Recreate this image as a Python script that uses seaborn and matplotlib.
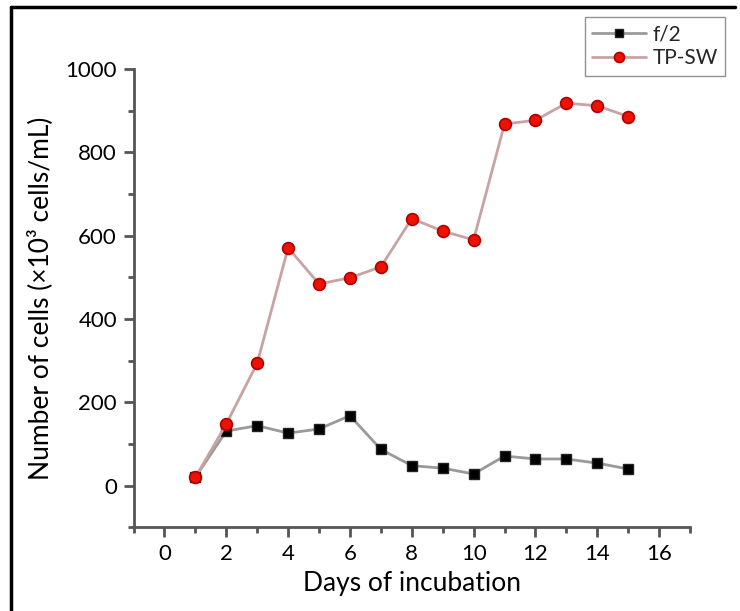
import matplotlib
matplotlib.use("Agg")
import matplotlib.pyplot as plt
from matplotlib.ticker import MultipleLocator
from matplotlib.lines import Line2D
import seaborn as sns
import numpy as np
import pandas as pd

days = [1, 2, 3, 4, 5, 6, 7, 8, 9, 10, 11, 12, 13, 14, 15]
f2 = [20, 131, 144, 126, 136, 168, 87, 48, 42, 28, 71, 64, 64, 54, 40]
tpsw = [20, 148, 294, 571, 484, 499, 525, 641, 611, 590, 868, 877, 918, 912, 886]
series_names = ["f/2", "TP-SW"]
x_ticks = [0, 2, 4, 6, 8, 10, 12, 14, 16]
y_ticks = [0, 200, 400, 600, 800, 1000]

sns.set_theme(style="white")
plt.rcParams['font.family'] = ['Lato', 'DejaVu Sans']

fig = plt.figure(figsize=(7.4, 6.11), dpi=100)
ax = fig.add_axes([0.1805, 0.137, 0.9324 - 0.1805, 0.887 - 0.137])

sns.lineplot(x=days, y=f2, ax=ax, label=series_names[0], color="#9a9a9a", lw=2,
             marker="s", markersize=7.5, markerfacecolor="black", markeredgecolor="#222222",
             markeredgewidth=1)
sns.lineplot(x=days, y=tpsw, ax=ax, label=series_names[1], color="#c9a3a3", lw=2,
             marker="o", markersize=8.5, markerfacecolor="#ee1100", markeredgecolor="#b00000",
             markeredgewidth=1.2)

ax.set_xlim(-1, 17)
ax.set_ylim(-100, 1000)
ax.set_xticks(x_ticks)
ax.set_yticks(y_ticks)
ax.xaxis.set_minor_locator(MultipleLocator(1))
ax.yaxis.set_minor_locator(MultipleLocator(100))

for s in ["top", "right"]:
    ax.spines[s].set_visible(False)
for s in ["left", "bottom"]:
    ax.spines[s].set_color("#555555")
    ax.spines[s].set_linewidth(2)

ax.tick_params(which="major", direction="out", length=7, width=2, color="#555555",
               labelsize=16, labelcolor="black", left=True, bottom=True, pad=5)
ax.tick_params(which="minor", direction="out", length=4, width=2, color="#555555",
               left=True, bottom=True)

ax.set_xlabel("Days of incubation", fontsize=19, color="black", labelpad=5)
ax.set_ylabel("Number of cells (×10³ cells/mL)", fontsize=19, color="black", labelpad=9)

leg = ax.legend(loc="upper right", bbox_to_anchor=(725/740, 1 - 17/611),
                bbox_transform=fig.transFigure, frameon=True, fancybox=False,
                edgecolor="#777777", fontsize=15, handlelength=2.6, handletextpad=0.3,
                borderpad=0.35, labelspacing=0.2, borderaxespad=0, markerscale=0.85)
leg.get_frame().set_linewidth(1)

# outer frame (top and left edges)
fig.add_artist(Line2D([10.5/740, 735/740], [1 - 6.5/611, 1 - 6.5/611],
                      transform=fig.transFigure, color="black", lw=2.5))
fig.add_artist(Line2D([10.5/740, 10.5/740], [0, 1 - 6.5/611],
                      transform=fig.transFigure, color="black", lw=2.5))

fig.savefig("out.png", dpi=100)
